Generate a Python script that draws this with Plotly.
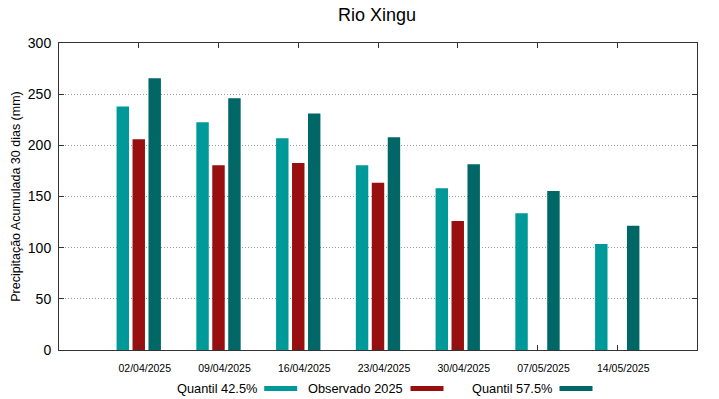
import plotly.graph_objects as go

categories = ["02/04/2025", "09/04/2025", "16/04/2025", "23/04/2025",
              "30/04/2025", "07/05/2025", "14/05/2025"]
series_names = ["Quantil 42.5%", "Observado 2025", "Quantil 57.5%"]
q425 = [238, 222.5, 207, 180.5, 158, 133.6, 103.6]
obs2025 = [206, 180.5, 182.7, 163.5, 126, None, None]
q575 = [265.5, 246, 231, 207.8, 181.4, 155.4, 121.5]
colors = ["#009999", "#990f0f", "#006666"]
y_ticks = [0, 50, 100, 150, 200, 250, 300]

FONT = "Liberation Sans, Arial, sans-serif"
W, H = 719, 399
L, R, T, B = 59, 22, 43, 49
pw, ph = W - L - R, H - T - B

fig = go.Figure()
for name, vals, col in zip(series_names, [q425, obs2025, q575], colors):
    fig.add_trace(go.Bar(x=categories, y=vals, name=name, marker_color=col,
                         marker_line_width=0, showlegend=False))

def px_x(p):
    return (p - L) / pw

def px_y(p):
    return (H - B - p) / ph

# custom legend: text then colored line sample
legend_text_right = [256.7, 403, 552]
legend_y = 388
annotations = []
shapes = []
for name, col, xr in zip(series_names, colors, legend_text_right):
    annotations.append(dict(text=name, x=px_x(xr + 2), y=px_y(legend_y), xref="paper", yref="paper",
                            xanchor="right", yanchor="middle", showarrow=False,
                            font=dict(size=12.8, color="black", family=FONT)))
    shapes.append(dict(type="line", xref="paper", yref="paper",
                       x0=px_x(xr + 7.5), x1=px_x(xr + 40.5), y0=px_y(legend_y + 0.5), y1=px_y(legend_y + 0.5),
                       line=dict(color=col, width=5)))

fig.update_layout(
    width=W, height=H,
    margin=dict(l=L, r=R, t=T, b=B, pad=0, autoexpand=False),
    paper_bgcolor="white", plot_bgcolor="white",
    font=dict(family=FONT, color="black"),
    title=dict(text="Rio Xingu", x=px_x(377), xref="paper", xanchor="center",
               y=1 - 15 / H, yref="container", yanchor="middle",
               font=dict(size=18, color="black", family=FONT)),
    barmode="group", bargap=0.4, bargroupgap=0.22,
    annotations=annotations, shapes=shapes,
)
fig.update_xaxes(type="category", range=[-1, 7], showline=True, mirror="ticks",
                 linecolor="#333333", linewidth=1, ticks="inside", ticklen=5,
                 tickcolor="#333333", showgrid=False,
                 tickfont=dict(size=10.5, color="black", family=FONT),
                 ticklabelshift=6, ticklabelstandoff=8)
fig.update_yaxes(range=[0, 300], tickvals=y_ticks, showline=True, mirror="ticks",
                 linecolor="#333333", linewidth=1, ticks="inside", ticklen=5,
                 tickcolor="#333333", showgrid=True, gridcolor="#999999",
                 griddash="1px,2px", gridwidth=1, zeroline=False,
                 tickfont=dict(size=14, color="black", family=FONT),
                 ticklabelstandoff=4,
                 title=dict(text="Precipitação Acumulada 30 dias (mm)",
                            font=dict(size=12.5, color="black", family=FONT), standoff=4))

fig.write_html("out.html", config={"displayModeBar": False},
               post_script="document.body.style.margin='0px';document.body.style.padding='0px';")
